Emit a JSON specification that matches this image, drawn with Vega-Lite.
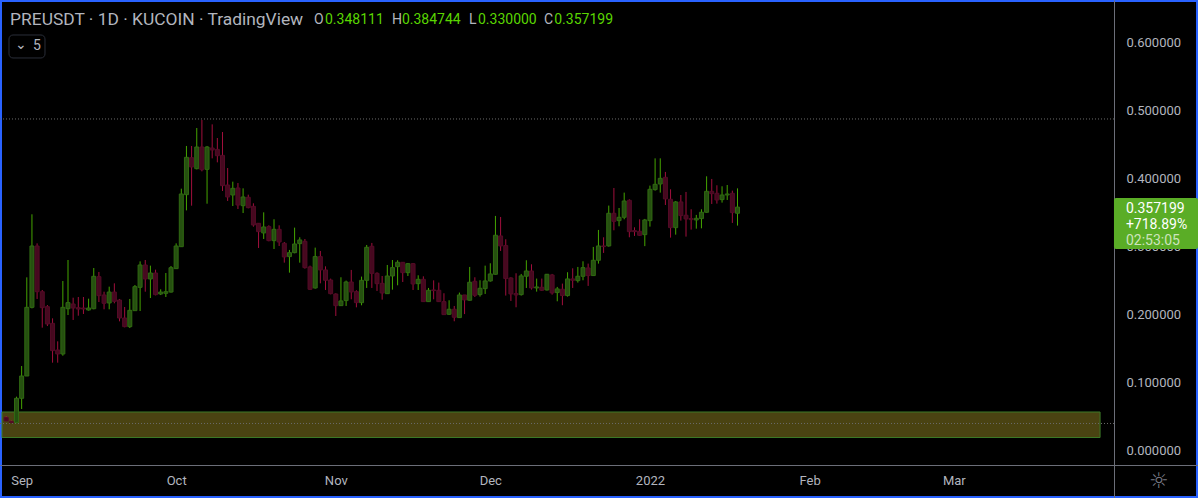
{
  "$schema": "https://vega.github.io/schema/vega-lite/v6.json",
  "description": "PREUSDT 1D KuCoin candles",
  "width": 1198,
  "height": 498,
  "autosize": {"type": "none"},
  "padding": 0,
  "background": "#000000",
  "view": {"fill": "#000000", "stroke": "#2962ff", "strokeWidth": 4},
  "datasets": {
    "candles": [
      {"date":"2021-08-29","open":0.0477,"high":0.05,"low":0.0427,"close":0.0427},
      {"date":"2021-08-30","open":0.0417,"high":0.0437,"low":0.0402,"close":0.0402},
      {"date":"2021-08-31","open":0.0402,"high":0.0784,"low":0.0402,"close":0.076},
      {"date":"2021-09-01","open":0.076,"high":0.1235,"low":0.0603,"close":0.1088},
      {"date":"2021-09-02","open":0.1088,"high":0.2539,"low":0.1088,"close":0.2098},
      {"date":"2021-09-03","open":0.2098,"high":0.3466,"low":0.2083,"close":0.3},
      {"date":"2021-09-04","open":0.3,"high":0.3039,"low":0.2221,"close":0.2328},
      {"date":"2021-09-05","open":0.2328,"high":0.2353,"low":0.1799,"close":0.2093},
      {"date":"2021-09-06","open":0.2108,"high":0.2132,"low":0.1823,"close":0.1853},
      {"date":"2021-09-07","open":0.1863,"high":0.1936,"low":0.1284,"close":0.1461},
      {"date":"2021-09-08","open":0.1471,"high":0.1598,"low":0.1284,"close":0.1412},
      {"date":"2021-09-09","open":0.1412,"high":0.2485,"low":0.1387,"close":0.2098},
      {"date":"2021-09-10","open":0.2078,"high":0.2794,"low":0.1985,"close":0.2167},
      {"date":"2021-09-11","open":0.2147,"high":0.224,"low":0.1912,"close":0.2088},
      {"date":"2021-09-12","open":0.2093,"high":0.225,"low":0.1975,"close":0.2073},
      {"date":"2021-09-13","open":0.2088,"high":0.225,"low":0.2,"close":0.2073},
      {"date":"2021-09-14","open":0.2059,"high":0.2225,"low":0.2049,"close":0.2088},
      {"date":"2021-09-15","open":0.2078,"high":0.2676,"low":0.2069,"close":0.2554},
      {"date":"2021-09-16","open":0.2549,"high":0.2618,"low":0.2176,"close":0.227},
      {"date":"2021-09-17","open":0.2279,"high":0.2328,"low":0.2069,"close":0.2157},
      {"date":"2021-09-18","open":0.2162,"high":0.2402,"low":0.2069,"close":0.2323},
      {"date":"2021-09-19","open":0.2323,"high":0.2451,"low":0.2157,"close":0.2186},
      {"date":"2021-09-20","open":0.2206,"high":0.2221,"low":0.1892,"close":0.1941},
      {"date":"2021-09-21","open":0.1941,"high":0.2103,"low":0.1804,"close":0.1814},
      {"date":"2021-09-22","open":0.1814,"high":0.2221,"low":0.1794,"close":0.2054},
      {"date":"2021-09-23","open":0.2049,"high":0.2426,"low":0.2049,"close":0.2402},
      {"date":"2021-09-24","open":0.2392,"high":0.2774,"low":0.2044,"close":0.2721},
      {"date":"2021-09-25","open":0.2721,"high":0.2794,"low":0.2328,"close":0.2515},
      {"date":"2021-09-26","open":0.2515,"high":0.2711,"low":0.2235,"close":0.2603},
      {"date":"2021-09-27","open":0.2603,"high":0.2652,"low":0.2274,"close":0.2284},
      {"date":"2021-09-28","open":0.2294,"high":0.2363,"low":0.2279,"close":0.2323},
      {"date":"2021-09-29","open":0.2304,"high":0.2603,"low":0.225,"close":0.2328},
      {"date":"2021-09-30","open":0.2323,"high":0.2706,"low":0.2314,"close":0.2681},
      {"date":"2021-10-01","open":0.2667,"high":0.3039,"low":0.2667,"close":0.3},
      {"date":"2021-10-02","open":0.299,"high":0.3843,"low":0.299,"close":0.3765},
      {"date":"2021-10-03","open":0.3755,"high":0.4471,"low":0.3524,"close":0.4304},
      {"date":"2021-10-04","open":0.4299,"high":0.4471,"low":0.3593,"close":0.4162},
      {"date":"2021-10-05","open":0.4137,"high":0.4735,"low":0.4127,"close":0.4456},
      {"date":"2021-10-06","open":0.4456,"high":0.4853,"low":0.4098,"close":0.4122},
      {"date":"2021-10-07","open":0.4127,"high":0.4471,"low":0.3622,"close":0.4456},
      {"date":"2021-10-08","open":0.4441,"high":0.4789,"low":0.4289,"close":0.4412},
      {"date":"2021-10-09","open":0.4421,"high":0.4588,"low":0.423,"close":0.4328},
      {"date":"2021-10-10","open":0.4333,"high":0.4676,"low":0.3809,"close":0.3887},
      {"date":"2021-10-11","open":0.3897,"high":0.4147,"low":0.3662,"close":0.3721},
      {"date":"2021-10-12","open":0.375,"high":0.3946,"low":0.3588,"close":0.3848},
      {"date":"2021-10-13","open":0.3853,"high":0.3926,"low":0.3544,"close":0.3603},
      {"date":"2021-10-14","open":0.3593,"high":0.3848,"low":0.3485,"close":0.3721},
      {"date":"2021-10-15","open":0.3716,"high":0.3755,"low":0.3554,"close":0.3564},
      {"date":"2021-10-16","open":0.3583,"high":0.3628,"low":0.3284,"close":0.3309},
      {"date":"2021-10-17","open":0.3334,"high":0.3334,"low":0.2971,"close":0.3211},
      {"date":"2021-10-18","open":0.3192,"high":0.3495,"low":0.3103,"close":0.328},
      {"date":"2021-10-19","open":0.3285,"high":0.3304,"low":0.3069,"close":0.3079},
      {"date":"2021-10-20","open":0.3079,"high":0.3393,"low":0.2956,"close":0.3245},
      {"date":"2021-10-21","open":0.3245,"high":0.3304,"low":0.3,"close":0.3059},
      {"date":"2021-10-22","open":0.304,"high":0.3059,"low":0.2755,"close":0.2839},
      {"date":"2021-10-23","open":0.2844,"high":0.2942,"low":0.2608,"close":0.2902},
      {"date":"2021-10-24","open":0.2902,"high":0.327,"low":0.2893,"close":0.303},
      {"date":"2021-10-25","open":0.3035,"high":0.3128,"low":0.2755,"close":0.3089},
      {"date":"2021-10-26","open":0.3069,"high":0.3103,"low":0.2667,"close":0.2682},
      {"date":"2021-10-27","open":0.2692,"high":0.2711,"low":0.2353,"close":0.2363},
      {"date":"2021-10-28","open":0.2383,"high":0.2976,"low":0.2373,"close":0.2844},
      {"date":"2021-10-29","open":0.2844,"high":0.2927,"low":0.2451,"close":0.2648},
      {"date":"2021-10-30","open":0.2648,"high":0.2701,"low":0.2353,"close":0.2495},
      {"date":"2021-10-31","open":0.25,"high":0.252,"low":0.2289,"close":0.2299},
      {"date":"2021-11-01","open":0.2294,"high":0.2304,"low":0.1971,"close":0.2123},
      {"date":"2021-11-02","open":0.2123,"high":0.254,"low":0.2123,"close":0.2192},
      {"date":"2021-11-03","open":0.2197,"high":0.2491,"low":0.2118,"close":0.2471},
      {"date":"2021-11-04","open":0.2471,"high":0.2648,"low":0.2216,"close":0.2324},
      {"date":"2021-11-05","open":0.2329,"high":0.2349,"low":0.2098,"close":0.2167},
      {"date":"2021-11-06","open":0.2167,"high":0.255,"low":0.2128,"close":0.2495},
      {"date":"2021-11-07","open":0.2495,"high":0.3015,"low":0.2383,"close":0.2981},
      {"date":"2021-11-08","open":0.2996,"high":0.3045,"low":0.2383,"close":0.2598},
      {"date":"2021-11-09","open":0.2598,"high":0.2613,"low":0.2339,"close":0.2446},
      {"date":"2021-11-10","open":0.2451,"high":0.2559,"low":0.2211,"close":0.2309},
      {"date":"2021-11-11","open":0.2299,"high":0.2721,"low":0.2299,"close":0.2559},
      {"date":"2021-11-12","open":0.2559,"high":0.2794,"low":0.2358,"close":0.2682},
      {"date":"2021-11-13","open":0.2696,"high":0.279,"low":0.2422,"close":0.276},
      {"date":"2021-11-14","open":0.276,"high":0.276,"low":0.2471,"close":0.2608},
      {"date":"2021-11-15","open":0.2608,"high":0.275,"low":0.2559,"close":0.274},
      {"date":"2021-11-16","open":0.274,"high":0.275,"low":0.2353,"close":0.2442},
      {"date":"2021-11-17","open":0.2446,"high":0.2569,"low":0.2353,"close":0.251},
      {"date":"2021-11-18","open":0.251,"high":0.2554,"low":0.2182,"close":0.2182},
      {"date":"2021-11-19","open":0.2182,"high":0.2383,"low":0.2177,"close":0.2349},
      {"date":"2021-11-20","open":0.2354,"high":0.2495,"low":0.2216,"close":0.2344},
      {"date":"2021-11-21","open":0.2349,"high":0.2462,"low":0.2177,"close":0.2182},
      {"date":"2021-11-22","open":0.2182,"high":0.2305,"low":0.1991,"close":0.1991},
      {"date":"2021-11-23","open":0.1996,"high":0.2202,"low":0.1986,"close":0.207},
      {"date":"2021-11-24","open":0.207,"high":0.2118,"low":0.1893,"close":0.1952},
      {"date":"2021-11-25","open":0.1947,"high":0.2315,"low":0.1947,"close":0.228},
      {"date":"2021-11-26","open":0.228,"high":0.228,"low":0.1999,"close":0.2207},
      {"date":"2021-11-27","open":0.2202,"high":0.2692,"low":0.2197,"close":0.2467},
      {"date":"2021-11-28","open":0.2481,"high":0.254,"low":0.2251,"close":0.2275},
      {"date":"2021-11-29","open":0.2285,"high":0.2496,"low":0.2256,"close":0.2378},
      {"date":"2021-11-30","open":0.2373,"high":0.2711,"low":0.2295,"close":0.2486},
      {"date":"2021-12-01","open":0.2486,"high":0.2746,"low":0.2476,"close":0.2589},
      {"date":"2021-12-02","open":0.2584,"high":0.3442,"low":0.2579,"close":0.3158},
      {"date":"2021-12-03","open":0.3148,"high":0.3427,"low":0.2927,"close":0.3001},
      {"date":"2021-12-04","open":0.3006,"high":0.3099,"low":0.2271,"close":0.2521},
      {"date":"2021-12-05","open":0.253,"high":0.254,"low":0.2192,"close":0.2295},
      {"date":"2021-12-06","open":0.23,"high":0.2599,"low":0.2099,"close":0.228},
      {"date":"2021-12-07","open":0.2285,"high":0.2589,"low":0.2271,"close":0.256},
      {"date":"2021-12-08","open":0.2555,"high":0.279,"low":0.2383,"close":0.2633},
      {"date":"2021-12-09","open":0.2633,"high":0.2731,"low":0.2359,"close":0.2383},
      {"date":"2021-12-10","open":0.2383,"high":0.2521,"low":0.2329,"close":0.2398},
      {"date":"2021-12-11","open":0.2393,"high":0.2521,"low":0.2339,"close":0.2349},
      {"date":"2021-12-12","open":0.2354,"high":0.2589,"low":0.2344,"close":0.2584},
      {"date":"2021-12-13","open":0.2574,"high":0.2589,"low":0.2285,"close":0.231},
      {"date":"2021-12-14","open":0.2315,"high":0.2398,"low":0.2187,"close":0.2369},
      {"date":"2021-12-15","open":0.2364,"high":0.2447,"low":0.2129,"close":0.2271},
      {"date":"2021-12-16","open":0.2271,"high":0.2614,"low":0.2256,"close":0.2516},
      {"date":"2021-12-17","open":0.2516,"high":0.2672,"low":0.2383,"close":0.2496},
      {"date":"2021-12-18","open":0.2491,"high":0.2692,"low":0.2462,"close":0.2555},
      {"date":"2021-12-19","open":0.2555,"high":0.2775,"low":0.2496,"close":0.2682},
      {"date":"2021-12-20","open":0.2677,"high":0.2741,"low":0.2413,"close":0.2565},
      {"date":"2021-12-21","open":0.2565,"high":0.2986,"low":0.256,"close":0.279},
      {"date":"2021-12-22","open":0.279,"high":0.3236,"low":0.2741,"close":0.3001},
      {"date":"2021-12-23","open":0.3001,"high":0.3128,"low":0.2898,"close":0.2991},
      {"date":"2021-12-24","open":0.3001,"high":0.3594,"low":0.2991,"close":0.3481},
      {"date":"2021-12-25","open":0.3481,"high":0.3853,"low":0.3231,"close":0.3363},
      {"date":"2021-12-26","open":0.3373,"high":0.3559,"low":0.329,"close":0.3422},
      {"date":"2021-12-27","open":0.3422,"high":0.3785,"low":0.3393,"close":0.3662},
      {"date":"2021-12-28","open":0.3672,"high":0.3687,"low":0.3128,"close":0.3211},
      {"date":"2021-12-29","open":0.3226,"high":0.3275,"low":0.3148,"close":0.3211},
      {"date":"2021-12-30","open":0.3216,"high":0.3393,"low":0.3148,"close":0.3157},
      {"date":"2021-12-31","open":0.3167,"high":0.3398,"low":0.2998,"close":0.3383},
      {"date":"2022-01-01","open":0.3373,"high":0.3888,"low":0.3285,"close":0.3834},
      {"date":"2022-01-02","open":0.3829,"high":0.4289,"low":0.3814,"close":0.3907},
      {"date":"2022-01-03","open":0.3912,"high":0.4289,"low":0.3785,"close":0.3995},
      {"date":"2022-01-04","open":0.401,"high":0.4089,"low":0.3603,"close":0.3692},
      {"date":"2022-01-05","open":0.3687,"high":0.3834,"low":0.3123,"close":0.327},
      {"date":"2022-01-06","open":0.327,"high":0.3662,"low":0.3167,"close":0.3648},
      {"date":"2022-01-07","open":0.3648,"high":0.375,"low":0.3373,"close":0.3447},
      {"date":"2022-01-08","open":0.3452,"high":0.3795,"low":0.3138,"close":0.3398},
      {"date":"2022-01-09","open":0.3403,"high":0.354,"low":0.3241,"close":0.3388},
      {"date":"2022-01-10","open":0.3383,"high":0.3457,"low":0.3255,"close":0.3407},
      {"date":"2022-01-11","open":0.3403,"high":0.354,"low":0.326,"close":0.3496},
      {"date":"2022-01-12","open":0.3496,"high":0.4025,"low":0.3491,"close":0.3804},
      {"date":"2022-01-13","open":0.3804,"high":0.3986,"low":0.3618,"close":0.377},
      {"date":"2022-01-14","open":0.3775,"high":0.3893,"low":0.3623,"close":0.3677},
      {"date":"2022-01-15","open":0.3682,"high":0.3878,"low":0.3638,"close":0.375},
      {"date":"2022-01-16","open":0.375,"high":0.3897,"low":0.3677,"close":0.3765},
      {"date":"2022-01-17","open":0.3775,"high":0.3814,"low":0.3339,"close":0.3491},
      {"date":"2022-01-18","open":0.348111,"high":0.384744,"low":0.33,"close":0.357199}
    ],
    "header": [
      {"text":"PREUSDT · 1D · KUCOIN · TradingView","date":"2021-08-29T18:00:00Z","price":0.6324,"kind":"title"},
      {"text":"O","date":"2021-10-27T18:30:00Z","price":0.6324,"kind":"name"},
      {"text":"0.348111","date":"2021-10-29T21:40:00Z","price":0.6324,"kind":"value"},
      {"text":"H","date":"2021-11-11T21:40:00Z","price":0.6324,"kind":"name"},
      {"text":"0.384744","date":"2021-11-13T20:00:00Z","price":0.6324,"kind":"value"},
      {"text":"L","date":"2021-11-26T21:00:00Z","price":0.6324,"kind":"name"},
      {"text":"0.330000","date":"2021-11-28T14:30:00Z","price":0.6324,"kind":"value"},
      {"text":"C","date":"2021-12-11T10:00:00Z","price":0.6324,"kind":"name"},
      {"text":"0.357199","date":"2021-12-13T10:00:00Z","price":0.6324,"kind":"value"},
      {"text":"⌄","date":"2021-08-30T17:00:00Z","price":0.5955,"kind":"name"},
      {"text":"5","date":"2021-09-03T05:00:00Z","price":0.5934,"kind":"name"},
      {"text":"0.357199","date":"2022-04-03T10:00:00Z","price":0.3544,"kind":"tag"},
      {"text":"+718.89%","date":"2022-04-03T10:00:00Z","price":0.3309,"kind":"tag"},
      {"text":"02:53:05","date":"2022-04-03T10:00:00Z","price":0.3073,"kind":"clock"}
    ],
    "levels": [
      {"price":0.4868,"date":"2021-08-27T19:06:00Z","end":"2022-04-01T02:24:00Z"},
      {"price":0.039,"date":"2021-08-27T19:06:00Z","end":"2022-04-01T02:24:00Z"}
    ]
  },
  "encoding": {
    "x": {
      "field": "date",
      "type": "temporal",
      "scale": {"type": "utc", "domain": ["2021-08-27T19:06:00Z", "2022-04-17T10:00:00Z"], "padding": 0},
      "axis": {
        "orient": "bottom",
        "offset": -33,
        "title": null,
        "grid": false,
        "ticks": false,
        "labelPadding": 9,
        "labelFont": "Roboto",
        "labelFontSize": 13,
        "labelColor": "#b2b5be",
        "labelOverlap": false,
        "labelFlush": false,
        "domainColor": "#6b6e78",
        "values": [
          {"year":2021,"month":"sep","date":1,"utc":true},
          {"year":2021,"month":"oct","date":1,"utc":true},
          {"year":2021,"month":"nov","date":1,"utc":true},
          {"year":2021,"month":"dec","date":1,"utc":true},
          {"year":2022,"month":"jan","date":1,"utc":true},
          {"year":2022,"month":"feb","date":1,"utc":true},
          {"year":2022,"month":"mar","date":1,"utc":true}
        ],
        "labelExpr": "utcmonth(datum.value) == 0 ? utcFormat(datum.value, '%Y') : utcFormat(datum.value, '%b')"
      }
    },
    "y": {
      "field": "price",
      "type": "quantitative",
      "scale": {"domain": [-0.07059, 0.66176], "nice": false, "zero": false},
      "axis": {
        "orient": "right",
        "offset": -84,
        "title": null,
        "grid": false,
        "ticks": false,
        "labelPadding": 12,
        "labelOffset": 1,
        "labelFont": "Roboto",
        "labelFontSize": 13,
        "labelColor": "#b2b5be",
        "labelOverlap": false,
        "labelFlush": false,
        "domainColor": "#6b6e78",
        "values": [0, 0.1, 0.2, 0.3, 0.4, 0.5, 0.6],
        "format": ".6f"
      }
    }
  },
  "layer": [
    {
      "data": {"values": [{"date":"2021-08-28T04:30:00Z","end":"2022-03-29T09:36:00Z","price":0.0559,"low":0.0184}]},
      "mark": {"type": "rect", "fill": "#4a4312", "stroke": "#3c7a28", "strokeWidth": 1},
      "encoding": {
        "x2": {"field": "end"},
        "y2": {"field": "low"}
      }
    },
    {
      "data": {"name": "levels"},
      "mark": {"type": "rule", "color": "#6a6a6a", "strokeDash": [1, 2], "strokeWidth": 1},
      "encoding": {
        "x2": {"field": "end"}
      }
    },
    {
      "data": {"name": "candles"},
      "mark": {"type": "rule", "strokeWidth": 1},
      "encoding": {
        "y": {"field": "high", "type": "quantitative", "axis": {"orient": "right", "title": null}},
        "y2": {"field": "low"},
        "color": {
          "condition": {"test": "datum.close >= datum.open", "value": "#45a500"},
          "value": "#a00f3c"
        }
      }
    },
    {
      "data": {"name": "candles"},
      "mark": {"type": "bar", "size": 4, "strokeWidth": 1},
      "encoding": {
        "y": {"field": "open", "type": "quantitative", "axis": {"orient": "right", "title": null}},
        "y2": {"field": "close"},
        "fill": {
          "condition": {"test": "datum.close >= datum.open", "value": "#265010"},
          "value": "#46091f"
        },
        "stroke": {
          "condition": {"test": "datum.close >= datum.open", "value": "#306a12"},
          "value": "#540b27"
        }
      }
    },
    {
      "data": {"values": [{"date":"2022-04-01T02:24:00Z","end":"2022-04-17T10:00:00Z","price":0.3706,"low":0.2956}]},
      "mark": {"type": "rect", "fill": "#5aad26", "cornerRadius": 2},
      "encoding": {
        "x2": {"field": "end"},
        "y2": {"field": "low"}
      }
    },
    {
      "data": {"values": [{"date":"2021-08-29T13:00:00Z","end":"2021-09-05T12:45:00Z","price":0.6103,"low":0.5765}]},
      "mark": {"type": "rect", "fill": "#000000", "stroke": "#2a2e39", "cornerRadius": 4},
      "encoding": {
        "x2": {"field": "end"},
        "y2": {"field": "low"}
      }
    },
    {
      "data": {"name": "header"},
      "transform": [{"filter": "datum.kind != 'title'"}],
      "mark": {"type": "text", "align": "left", "baseline": "middle", "font": "Roboto", "fontSize": 14},
      "encoding": {
        "text": {"field": "text"},
        "color": {
          "field": "kind",
          "type": "nominal",
          "legend": null,
          "scale": {
            "domain": ["name", "value", "tag", "clock"],
            "range": ["#b2b5be", "#5ad600", "#ffffff", "#cde4bd"]
          }
        }
      }
    },
    {
      "data": {"name": "header"},
      "transform": [{"filter": "datum.kind == 'title'"}],
      "mark": {"type": "text", "align": "left", "baseline": "middle", "font": "Roboto", "fontSize": 17.4, "color": "#b2b5be"},
      "encoding": {
        "text": {"field": "text"}
      }
    },
    {
      "data": {"values": [{"text":"☼","date":"2022-04-07T22:00:00Z","price":-0.0456}]},
      "mark": {"type": "text", "align": "left", "baseline": "middle", "font": "DejaVu Sans", "fontSize": 22, "color": "#787b86"},
      "encoding": {
        "text": {"field": "text"}
      }
    }
  ]
}
